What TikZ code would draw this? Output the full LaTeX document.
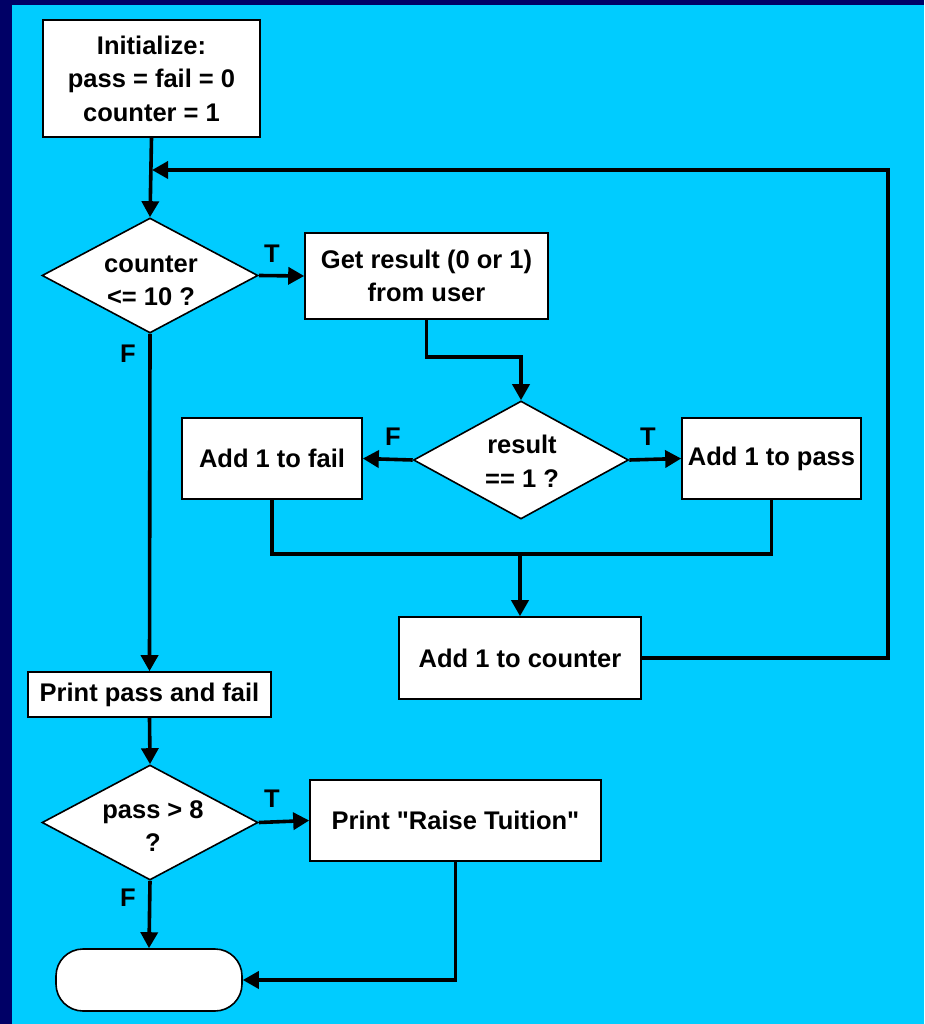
\documentclass[tikz,border=0pt]{standalone}
\usepackage{fontspec}
\setmainfont{Liberation Sans}[Ligatures=TeXOff]
\usetikzlibrary{shapes.geometric,arrows.meta}
\definecolor{bgcyan}{HTML}{00CCFF}
\definecolor{navy}{HTML}{000066}
\tikzset{
  lbl/.style={font=\fontsize{25.5}{33.5}\selectfont\bfseries, align=center, inner sep=0pt},
  box/.style={lbl, draw=black, fill=white, line width=1.6pt, rectangle},
  decision/.style={draw=black, fill=white, line width=1.6pt, diamond, aspect=1.88, inner sep=0pt},
  terminal/.style={draw=black, fill=white, line width=1.6pt, rectangle, rounded corners=27pt},
  conn/.style={line width=3.6pt, draw=black},
  arr/.style={conn, -{Triangle[length=16pt,width=17pt]}},
  tf/.style={lbl}
}
\begin{document}
\begin{tikzpicture}[x=1pt,y=-1pt]
  % page background with the dark frame on the left and top
  \useasboundingbox (0,0) rectangle (924,1024);
  \fill[bgcyan] (0,0) rectangle (924,1024);
  \fill[navy] (0,0) rectangle (12,1024);
  \fill[navy] (0,0) rectangle (924,5);

  % process boxes
  \node[box, minimum width=217pt, minimum height=117pt] (init) at (151.5,78.5)
    {Initialize:\\pass = fail = 0\\counter = 1};
  \node[box, minimum width=243pt, minimum height=86pt] (get) at (426.5,276)
    {Get result (0 or 1)\\from user};
  \node[box, minimum width=180pt, minimum height=81pt] (fail) at (272,458.5)
    {Add 1 to fail};
  \node[box, minimum width=179pt, minimum height=81pt] (pass) at (771.5,458.5)
    {Add 1 to pass};
  \node[box, minimum width=242pt, minimum height=82pt] (cnt) at (520,658)
    {Add 1 to counter};
  \node[box, minimum width=243pt, minimum height=45pt] (print) at (149.5,694.5)
    {Print pass and fail};
  \node[box, minimum width=291pt, minimum height=81pt] (raise) at (455.5,820.5)
    {Print "Raise Tuition"};
  \node[terminal, minimum width=186pt, minimum height=62pt] (term) at (149,980) {};

  % decisions, with their questions set a little below the centre
  \node[decision, minimum width=216pt, minimum height=115pt] (d1) at (150,275.5) {};
  \node[lbl] (d1t) at (151,281) {counter\\<= 10 ?};
  \node[decision, minimum width=215pt, minimum height=118pt] (d2) at (521,460) {};
  \node[lbl] (d2t) at (522,461.5) {result\\== 1 ?};
  \node[decision, minimum width=216pt, minimum height=115pt] (d3) at (150,822.5) {};
  \node[lbl] (d3t) at (153,826) {pass > 8\\?};

  % helper points of the loop and the merge
  \coordinate (loopR) at (888,170);
  \coordinate (loopIn) at (152,170);
  \coordinate (merge) at (520,553);

  % connectors
  \draw[arr] (init.south) -- (d1.north);
  \draw[arr] (cnt.east) -| (loopR) -- (loopIn);
  \draw[arr] (d1.east) -- (get.west);
  \draw[arr] (get.south) -- ++(0,37) -| (d2.north);
  \draw[arr] (d2.west) -- (fail.east);
  \draw[arr] (d2.east) -- (pass.west);
  \draw[conn] (fail.south) -- ++(0,54) -| (pass.south);
  \draw[arr] (merge) -- (cnt.north);
  \draw[arr] (d1.south) -- (print.north);
  \draw[arr] (print.south) -- (d3.north);
  \draw[arr] (d3.east) -- (raise.west);
  \draw[arr] (d3.south) -- (term.north);
  \draw[arr] (raise.south) |- (term.east);

  % branch labels
  \node[tf] (t1) at (272,254) {T};
  \node[tf] (f1) at (128,354) {F};
  \node[tf] (f2) at (393,437) {F};
  \node[tf] (t2) at (648,437) {T};
  \node[tf] (t3) at (272,799) {T};
  \node[tf] (f3) at (128,898) {F};
\end{tikzpicture}
\end{document}
